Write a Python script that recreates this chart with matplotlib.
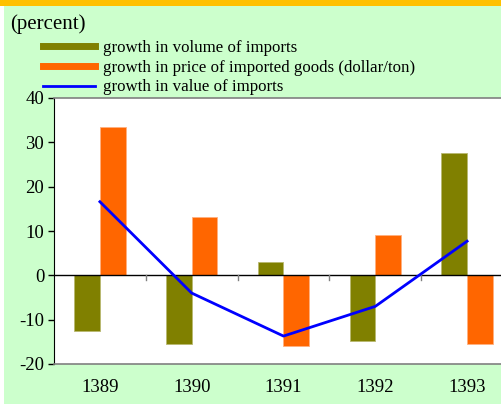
import numpy as np
import matplotlib.pyplot as plt
from matplotlib.patches import Rectangle
from matplotlib.lines import Line2D

plt.rcParams['font.family'] = ['Liberation Serif', 'DejaVu Serif']
plt.rcParams['axes.unicode_minus'] = False

years = ['1389', '1390', '1391', '1392', '1393']
volume = [-12.6, -15.4, 2.9, -14.7, 27.7]
price = [33.5, 13.2, -16.0, 9.0, -15.6]
value = [16.6, -4.0, -13.7, -7.0, 7.7]

labels = ['growth in volume of imports',
          'growth in price of imported goods (dollar/ton)',
          'growth in value of imports']

c_vol = '#808000'
c_price = '#FF6600'
c_val = '#0000FF'

W, H = 502, 404
fig = plt.figure(figsize=(W / 100, H / 100), dpi=100)
fig.patch.set_facecolor('#CCFFCC')

# frame decorations: white left strip, orange top band
fig.patches.append(Rectangle((0, 0), 4 / W, 1, transform=fig.transFigure,
                             facecolor='white', edgecolor='none', zorder=0))
fig.patches.append(Rectangle((0, 1 - 6 / H), 1, 6 / H, transform=fig.transFigure,
                             facecolor='#FFC000', edgecolor='none', zorder=0))

# axes in pixel coordinates (right edge runs past the figure)
x0, x1, ytop, ybot = 54, 513, 98, 364
ax = fig.add_axes([x0 / W, 1 - ybot / H, (x1 - x0) / W, (ybot - ytop) / H])
ax.set_facecolor('white')

x = np.arange(len(years))
bw = 0.28
ax.bar(x - bw / 2, volume, bw, color=c_vol, edgecolor='#B8B870', linewidth=0.6, zorder=2)
ax.bar(x + bw / 2, price, bw, color=c_price, edgecolor='#FFB080', linewidth=0.6, zorder=2)
ax.plot(x, value, color=c_val, lw=2, zorder=3)

ax.axhline(0, color='black', lw=1, zorder=2.5)
for b in np.arange(0.5, len(years) - 1, 1.0):
    ax.plot([b, b], [0, -1.0], color='#808080', lw=1, zorder=2.5)

ax.set_xlim(-0.5, len(years) - 0.5)
ax.set_ylim(-20, 40)
ax.set_yticks(range(-20, 41, 10))
ax.set_xticks(x)
ax.set_xticklabels(years)
ax.tick_params(axis='x', length=0, pad=11, labelsize=13.5)
ax.tick_params(axis='y', direction='out', length=4, width=1, labelsize=13.5, pad=3)

for s in ['top', 'bottom']:
    ax.spines[s].set_color('#808080')
    ax.spines[s].set_linewidth(1.2)
ax.spines['right'].set_visible(False)
ax.spines['left'].set_color('black')

fig.text(10 / W, 1 - 24 / H, '(percent)', fontsize=15, va='center', ha='left')

handles = [Line2D([], [], color=c_vol, lw=5),
           Line2D([], [], color=c_price, lw=5),
           Line2D([], [], color=c_val, lw=2)]
fig.legend(handles, labels, loc='upper left', bbox_to_anchor=(43 / W, 1 - 40 / H),
           frameon=False, fontsize=12.2, handlelength=3.05, handletextpad=0.5,
           labelspacing=0.22, borderpad=0, borderaxespad=0)

fig.savefig('out.png', dpi=100, facecolor=fig.get_facecolor())
